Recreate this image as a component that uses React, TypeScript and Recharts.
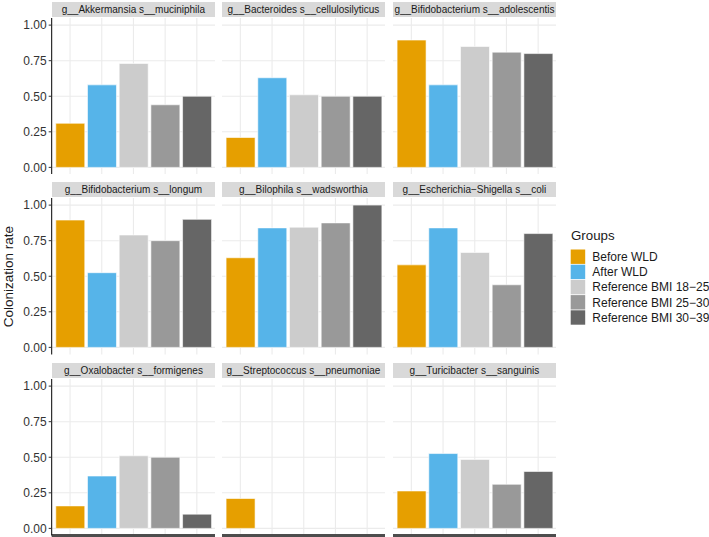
import React from 'react';
import { BarChart, Bar, XAxis, YAxis, CartesianGrid, Cell } from 'recharts';

const groups = ['Before WLD', 'After WLD', 'Reference BMI 18−25', 'Reference BMI 25−30', 'Reference BMI 30−39'];
const groupColors = ['#E69F00', '#56B4E9', '#CCCCCC', '#999999', '#666666'];

const taxa = [
  'g__Akkermansia s__muciniphila',
  'g__Bacteroides s__cellulosilyticus',
  'g__Bifidobacterium s__adolescentis',
  'g__Bifidobacterium s__longum',
  'g__Bilophila s__wadsworthia',
  'g__Escherichia−Shigella s__coli',
  'g__Oxalobacter s__formigenes',
  'g__Streptococcus s__pneumoniae',
  'g__Turicibacter s__sanguinis',
];

const akkermansia = [0.31, 0.58, 0.73, 0.44, 0.5];
const bacteroides = [0.21, 0.63, 0.51, 0.5, 0.5];
const bifidoAdolescentis = [0.895, 0.58, 0.85, 0.81, 0.8];
const bifidoLongum = [0.895, 0.525, 0.79, 0.75, 0.9];
const bilophila = [0.63, 0.84, 0.845, 0.875, 1.0];
const escherichia = [0.58, 0.84, 0.667, 0.44, 0.8];
const oxalobacter = [0.158, 0.368, 0.51, 0.5, 0.1];
const streptococcus = [0.21, null, null, null, null];
const turicibacter = [0.263, 0.526, 0.485, 0.31, 0.4];

const panelValues = [
  akkermansia, bacteroides, bifidoAdolescentis,
  bifidoLongum, bilophila, escherichia,
  oxalobacter, streptococcus, turicibacter,
];

const yTicks = [0, 0.25, 0.5, 0.75, 1];
const yDomain = [-0.05, 1.05];

const FONT = '"Liberation Sans", Arial, Helvetica, sans-serif';

const colX = [51.7, 221.7, 392.7];
const panelW = 163.5;
const stripTop = [1.7, 181.7, 362.7];
const stripH = 15;
const panelTop = [17.9, 198.2, 378.9];
const panelH = 156.5;
const yAxisW = 51.7;

const EmptyTick = () => <g />;

function Panel({ idx }: { idx: number }) {
  const row = Math.floor(idx / 3);
  const col = idx % 3;
  const vals = panelValues[idx];
  const data = groups.map((g, i) => ({ group: g, value: vals[i] }));
  const first = col === 0;
  const bottom = row === 2;
  const w = panelW + (first ? yAxisW : 0);
  const h = panelH + (bottom ? 3 : 0);
  const left = first ? colX[0] - yAxisW : colX[col];
  return (
    <div style={{ position: 'absolute', left, top: panelTop[row], width: w, height: h }}>
      <BarChart
        width={w}
        height={h}
        data={data}
        margin={{ top: 0, right: 0, bottom: 0, left: 0 }}
        barCategoryGap="5%"
      >
        <CartesianGrid stroke="#ebebeb" strokeWidth={1.1} syncWithTicks />
        <XAxis
          dataKey="group"
          type="category"
          padding={{ left: 2.5, right: 2.5 }}
          interval={0}
          tick={EmptyTick}
          tickLine={false}
          axisLine={bottom ? { stroke: '#4d4d4d', strokeWidth: 3 } : false}
          height={bottom ? 3 : 0}
        />
        <YAxis
          type="number"
          domain={yDomain}
          ticks={yTicks}
          interval={0}
          allowDataOverflow
          width={first ? yAxisW : 0}
          tick={first ? { fill: '#333333', fontSize: 12, fontFamily: FONT } : EmptyTick}
          tickFormatter={(v: number) => v.toFixed(2)}
          tickLine={first ? { stroke: '#333333' } : false}
          tickSize={3}
          tickMargin={2}
          axisLine={first ? { stroke: '#000000', strokeWidth: 1 } : false}
        />
        <Bar dataKey="value" isAnimationActive={false} stroke="#ffffff" strokeWidth={0.6}>
          {data.map((d, i) => (
            <Cell key={i} fill={groupColors[i]} />
          ))}
        </Bar>
      </BarChart>
    </div>
  );
}

function Strip({ idx }: { idx: number }) {
  const row = Math.floor(idx / 3);
  const col = idx % 3;
  return (
    <div
      style={{
        position: 'absolute',
        left: colX[col],
        top: stripTop[row],
        width: panelW,
        height: stripH,
        background: '#d9d9d9',
        color: '#1a1a1a',
        fontFamily: FONT,
        fontSize: 10,
        lineHeight: `${stripH}px`,
        textAlign: 'center',
        whiteSpace: 'nowrap',
      }}
    >
      {taxa[idx]}
    </div>
  );
}

function Legend() {
  const keyX = 570.7;
  const keyTop = 249.5;
  const pitch = 15.2;
  return (
    <svg style={{ position: 'absolute', left: 0, top: 0 }} width={709} height={537}>
      <text x={571} y={239.5} fontSize={13.3} fontFamily={FONT} fill="#1a1a1a">Groups</text>
      {groups.map((g, i) => (
        <g key={g}>
          <rect x={keyX} y={keyTop + i * pitch} width={14.5} height={14.4} fill={groupColors[i]} />
          <text
            x={592.3}
            y={keyTop + i * pitch + 7.2}
            dy="0.35em"
            fontSize={12}
            fontFamily={FONT}
            fill="#1a1a1a"
          >
            {g}
          </text>
        </g>
      ))}
      <text
        x={0}
        y={0}
        transform="translate(13.2, 276.6) rotate(-90)"
        textAnchor="middle"
        fontSize={13.5}
        fontFamily={FONT}
        fill="#1a1a1a"
      >
        Colonization rate
      </text>
    </svg>
  );
}

export default function App() {
  return (
    <div style={{ position: 'absolute', left: 0, top: 0, width: 709, height: 537, background: '#ffffff', overflow: 'hidden' }}>
      {taxa.map((_, i) => (
        <Strip key={'s' + i} idx={i} />
      ))}
      {taxa.map((_, i) => (
        <Panel key={'p' + i} idx={i} />
      ))}
      <Legend />
    </div>
  );
}
